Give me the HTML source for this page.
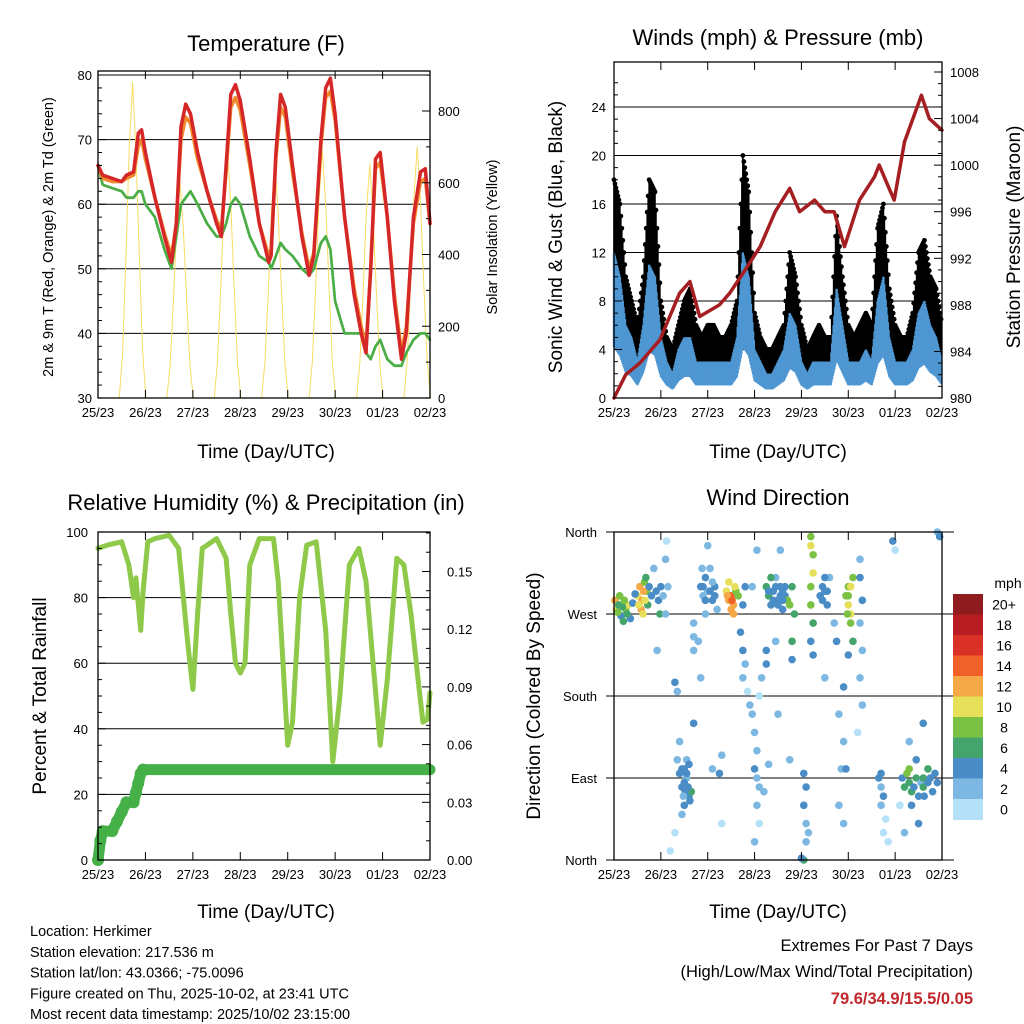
<!DOCTYPE html>
<html><head><meta charset="utf-8"><title>Herkimer Station</title>
<style>
html,body{margin:0;padding:0;background:#fff;}
svg{display:block;font-family:"Liberation Sans",Arial,sans-serif;}
</style></head>
<body>
<svg id="svg" width="1024" height="1024" viewBox="0 0 1024 1024" xmlns="http://www.w3.org/2000/svg">
<rect width="1024" height="1024" fill="#fff"/>
</svg>
<script>
// ===== Data =====
const dayLabels = ["25/23","26/23","27/23","28/23","29/23","30/23","01/23","02/23"];
// Temperature panel
const tempTimes = [0,0.1,0.3,0.5,0.6,0.75,0.85,0.92,1.0,1.2,1.4,1.55,1.65,1.75,1.85,1.95,2.1,2.3,2.5,2.6,2.7,2.8,2.9,3.0,3.2,3.4,3.6,3.65,3.75,3.85,3.95,4.1,4.3,4.45,4.55,4.7,4.8,4.9,5.0,5.2,5.4,5.55,5.65,5.75,5.85,5.95,6.1,6.25,6.4,6.5,6.65,6.8,6.9,7.0];
const tempRed = [66,64.5,64,63.5,64.5,65,71,71.5,68,61,55,51,57,72,75.5,74,68,62,57,55,66,77,78.5,76,67,57,51,52,68,77,75,66,55,49,52,70,78,79.5,74,58,46,40,37,50,67,68,58,45,36,40,58,65,65.5,57];
const tempOrange = [66,64,63.5,63.5,64,64.5,69,70,67,61,55.5,52,57,70,73.5,72.5,67,62,57.5,56,65,75,76.5,74.5,66,57,52,53,67,75,73.5,65,55.5,50,52.5,69,76.5,77.5,73,58,47,41,38,50,65.5,66.5,58,46,37,41,57,63.5,64,57];
const tempGreen = [66,63,62.5,62,61,61,62,62,60,58,53,50,55,60,61,62,60,57,55,55,57,60,61,60,55,52,51,50,52,54,53,52,50,49,50,54,55,53,45,40,40,40,37,36,38,39,36,35,35,37,39,40,40,39];
const solarPeaks = [880,600,690,660,690,650,700];
const solarProfile = [0,0.15,0.45,0.8,1,0.78,0.45,0.15,0];
// Winds panel
const windTimes = [0,0.125,0.25,0.375,0.5,0.625,0.75,0.875,1,1.125,1.25,1.375,1.5,1.625,1.75,1.875,2,2.125,2.25,2.375,2.5,2.625,2.75,2.875,3,3.125,3.25,3.375,3.5,3.625,3.75,3.875,4,4.125,4.25,4.375,4.5,4.625,4.75,4.875,5,5.125,5.25,5.375,5.5,5.625,5.75,5.875,6,6.125,6.25,6.375,6.5,6.625,6.75,6.875,7];
const gust = [18,16,10,8,6,10,18,17,8,5,4,6,8,9,6,5,6,6,5,5,6,8,20,17,7,5,4,4,5,6,12,10,6,4,5,6,5,5,15,10,6,5,6,7,6,14,16,9,6,5,5,7,12,13,10,9,6];
const wind = [12,10,6,5,3,6,11,10,5,3,2,4,5,5,3,3,3,3,3,3,3,5,12,10,4,3,2,2,3,4,7,6,3,2,3,3,3,3,9,6,3,3,3,4,3,8,10,5,3,3,3,4,7,8,6,5,3];
const presTimes = [0,0.25,0.55,0.98,1.4,1.62,1.83,2.25,2.47,2.8,3.12,3.44,3.75,3.96,4.28,4.5,4.7,4.92,5.24,5.56,5.66,5.87,5.98,6.2,6.56,6.73,7.0];
const pressure = [980,982,983,985,989,990,987,988,989,991,993,996,998,996,997,996,996,993,997,999,1000,998,997,1002,1006,1004,1003];
// RH panel
const rhTimes = [0,0.2,0.5,0.65,0.75,0.8,0.9,0.95,1.05,1.2,1.5,1.7,1.8,1.9,2.0,2.1,2.2,2.5,2.7,2.8,2.9,3.0,3.1,3.2,3.4,3.7,3.8,3.9,4.0,4.1,4.25,4.4,4.6,4.8,4.95,5.1,5.3,5.5,5.65,5.8,5.95,6.1,6.3,6.45,6.6,6.75,6.85,6.95,7.0];
const rh = [95,96,97,90,80,86,70,82,97,98,99,95,80,65,52,75,95,98,92,75,60,57,60,90,98,98,85,60,35,42,80,96,97,70,30,50,90,95,85,60,35,55,92,90,75,55,42,43,51];
const rainTimes = [0,0.05,0.1,0.3,0.4,0.5,0.6,0.75,0.8,0.85,0.9,0.95,7.0];
const rain = [0,0.01,0.015,0.015,0.02,0.025,0.03,0.03,0.035,0.04,0.045,0.047,0.047];
// Wind direction panel
const dirTimes = [0.02,0.05,0.1,0.15,0.2,0.25,0.3,0.35,0.12,0.5,0.55,0.6,0.65,0.7,0.58,0.68,0.72,0.62,0.85,0.9,0.95,1.0,0.98,1.05,1.1,1.12,1.15,1.1,0.92,1.35,1.4,1.45,1.5,1.55,1.6,1.65,1.5,1.45,1.55,1.4,1.7,1.3,1.2,1.7,1.7,1.7,1.35,1.3,1.85,1.9,1.95,2.0,2.05,2.1,2.15,2.0,1.95,2.2,1.8,1.85,2.1,2.3,2.25,2.3,2.4,2.45,2.5,2.55,2.6,2.65,2.5,2.45,2.75,2.8,2.7,2.75,2.8,2.75,2.85,2.9,2.95,3.0,3.05,3.0,3.05,3.1,3.05,3.1,3.0,2.95,3.05,3.1,3.15,3.25,3.3,3.35,3.4,3.5,3.55,3.6,3.45,3.65,3.7,3.75,3.8,3.85,3.8,3.8,3.25,3.25,3.45,3.55,3.5,3.75,3.3,3.2,4.05,4.1,4.05,4.1,4.15,4.1,4.05,4.0,4.2,4.2,4.25,4.25,4.2,4.2,4.25,4.2,4.25,4.4,4.45,4.5,4.55,4.6,4.7,4.75,4.5,4.8,4.9,4.85,4.8,4.9,4.95,5.0,5.05,5.0,5.1,5.05,5.1,5.0,4.95,4.9,5.25,5.25,5.3,5.25,5.3,5.25,5.3,5.2,5.65,5.7,5.75,5.7,5.8,5.75,5.85,5.7,5.95,6.0,6.15,6.2,6.25,6.3,6.35,6.3,6.4,6.45,6.5,6.55,6.6,6.35,6.45,6.5,6.3,6.1,6.2,6.6,6.9,6.95,
  0.08,0.18,0.22,0.28,0.4,0.45,0.53,0.63,0.66,0.75,0.8,1.45,1.5,1.52,1.55,1.58,1.6,1.62,1.48,1.9,1.95,2.05,2.1,2.15,1.88,2.42,2.52,2.58,2.55,3.3,3.4,3.45,3.5,3.55,3.6,3.6,3.65,3.35,4.45,4.55,4.5,5.0,5.05,4.98,6.6,6.7,6.75,6.8,6.85,6.7,6.62,6.9];
const dirDegrees = [285,275,280,268,262,275,280,265,290,290,300,285,305,295,275,310,280,270,320,295,285,300,270,290,330,350,300,270,230,110,95,80,100,90,70,75,60,50,110,130,150,30,10,230,245,260,185,195,300,290,310,295,320,285,300,345,270,275,240,200,100,115,95,40,295,285,290,280,295,290,275,305,280,300,250,230,215,200,185,170,160,140,120,100,90,80,60,40,20,300,340,180,200,300,290,280,295,285,300,275,310,290,285,280,300,270,240,220,230,215,240,340,160,110,105,75,95,80,60,40,30,20,0,2,355,345,335,315,300,280,260,240,225,290,300,295,280,310,260,240,200,160,130,100,60,40,290,280,270,300,310,260,240,225,100,190,330,310,285,260,230,200,170,140,90,80,70,60,45,30,20,95,350,340,90,80,95,85,75,100,80,90,70,85,90,60,110,40,130,60,30,150,360,355,
  272,278,285,270,282,292,280,295,285,300,290,100,85,75,95,80,105,65,70,300,285,295,305,290,320,290,285,300,270,295,285,300,280,290,295,285,300,310,285,295,310,290,300,270,80,85,90,75,95,100,70,85];
const dirSpeeds = [12,10,6,4,6,8,10,4,8,10,12,12,8,8,12,6,6,10,2,4,4,4,6,2,2,0,2,2,2,2,4,4,4,2,4,6,4,2,2,2,4,0,0,2,2,2,2,4,4,2,4,2,2,4,4,2,2,2,2,2,2,2,4,0,10,12,14,12,8,8,12,10,4,4,4,4,2,2,0,2,2,2,2,4,2,2,2,0,2,2,2,0,2,6,6,4,4,4,4,4,2,4,8,8,6,6,6,4,4,4,2,2,2,2,2,2,4,4,4,2,2,2,6,4,8,10,8,10,8,8,6,4,4,4,4,4,4,2,2,4,2,2,2,2,2,2,8,10,10,8,8,8,6,4,4,4,2,4,4,2,2,2,2,0,4,2,4,2,0,0,0,4,4,0,4,6,8,6,6,8,4,6,4,2,6,4,4,4,2,0,2,4,2,4,
  8,6,8,6,4,4,10,12,10,4,4,4,4,4,4,4,4,4,2,4,4,4,2,4,2,12,14,10,12,4,4,4,4,4,4,4,4,6,4,4,4,8,10,8,6,4,4,4,4,6,4,4];
const speedLabels = ["20+","18","16","14","12","10","8","6","4","2","0"];
const speedColors = ["#8e1b1d","#b81d24","#da3127","#ef6129","#f5a847","#e6df5a","#7bc144","#43a56c","#4a8dc6","#7db8e2","#b4e1f7"];

// ===== Helpers =====
const NS="http://www.w3.org/2000/svg";
const svg=document.getElementById('svg');
function mk(tag,attrs,parent){const e=document.createElementNS(NS,tag);for(const k in attrs)e.setAttribute(k,attrs[k]);(parent||svg).appendChild(e);return e;}
function grp(name){const g=mk('g',{});return g;}
function txt(g,x,y,s,size,anchor,extra){const t=mk('text',Object.assign({x:x,y:y,'font-size':size,'text-anchor':anchor||'middle',fill:'#000'},extra||{}),g);t.textContent=s;return t;}
function ln(g,x1,y1,x2,y2,c,w){return mk('line',{x1:x1,y1:y1,x2:x2,y2:y2,stroke:c||'#000','stroke-width':w||1},g);}
function poly(g,xs,ys,c,w){let d='';for(let i=0;i<xs.length;i++)d+=(i?'L':'M')+xs[i].toFixed(1)+','+ys[i].toFixed(1);return mk('path',{d:d,fill:'none',stroke:c,'stroke-width':w,'stroke-linejoin':'round','stroke-linecap':'round'},g);}
function scale(d0,d1,r0,r1){return v=>r0+(v-d0)*(r1-r0)/(d1-d0);}
function xAxis(g,x0,x1,yb,yt){const xs=scale(0,7,x0,x1);
  dayLabels.forEach((l,i)=>{const x=xs(i);ln(g,x,yb,x,yb-8);ln(g,x,yt,x,yt+8);
    const t=txt(g,x,yb+19,l,13);});
  return xs;}
function frame(g,x0,y0,x1,y1){mk('rect',{x:x0,y:y0,width:x1-x0,height:y1-y0,fill:'none',stroke:'#000','stroke-width':1.3},g);}

// ===== Panel 1: Temperature =====
(function(){
  const g=grp('temperature-panel');
  const X0=98,X1=430,YT=71,YB=398;
  const xs=scale(0,7,X0,X1), yl=scale(30,80,398,75), yr=scale(0,800,398,111);
  [40,50,60,70,80].forEach(v=>ln(g,X0,yl(v),X1,yl(v),'#000',1));
  const sg=grp('solar-insolation-series');g.appendChild(sg);
  solarPeaks.forEach((p,d)=>{const px=[],py=[];solarProfile.forEach((f,i)=>{px.push(xs(d+0.45+i*0.07));py.push(yr(p*f));});poly(sg,px,py,'#f6dd63',1);});
  const gr=poly(g,tempTimes.map(xs),tempGreen.map(yl),'#4aad45',2.8);gr.setAttribute('stroke-dasharray','2 1.5');
  const or=poly(g,tempTimes.map(xs),tempOrange.map(yl),'#f08a2c',3.5);
  const rd=poly(g,tempTimes.map(xs),tempRed.map(yl),'#d62728',3.5);
  frame(g,X0,YT,X1,YB);
  xAxis(g,X0,X1,YB,YT);
  for(let v=30;v<=80;v+=2){const y=yl(v);const M=v%10===0;ln(g,X0,y,X0+(M?8:4),y);if(M){const t=txt(g,X0-6,y+5,String(v),13,'end');}}
  for(let v=0;v<=900;v+=100){const y=yr(v);const M=v%200===0;ln(g,X1,y,X1-(M?8:4),y);if(M){const t=txt(g,X1+8,y+5,String(v),13,'start');}}
  const t1=txt(g,266,51,'Temperature (F)',22);
  const t2=txt(g,266,458,'Time (Day/UTC)',19);
  const t3=txt(g,0,0,'2m & 9m T (Red, Orange) & 2m Td (Green)',14.5,'middle',{transform:'translate(53,237) rotate(-90)'});
  const t4=txt(g,0,0,'Solar Insolation (Yellow)',14.5,'middle',{transform:'translate(497,237) rotate(-90)'});
})();

// ===== Panel 2: Winds & Pressure =====
(function(){
  const g=grp('winds-pressure-panel');
  const X0=614,X1=942,YT=62,YB=398;
  const xs=scale(0,7,X0,X1), yl=scale(0,24,398,107), yr=scale(980,1008,398,72);
  [4,8,12,16,20,24].forEach(v=>ln(g,X0,yl(v),X1,yl(v),'#000',1));
  const gg=grp('gust-series');g.appendChild(gg);
  for(let i=0;i<windTimes.length-1;i++){
    const n=6;
    for(let k=0;k<n;k++){const f=k/n;const tt=windTimes[i]+f*(windTimes[i+1]-windTimes[i]);
      const gv=gust[i]+f*(gust[i+1]-gust[i]), wv=wind[i]+f*(wind[i+1]-wind[i]);
      ln(gg,xs(tt),yl(wv),xs(tt),yl(gv),'#000',1.6);
      mk('circle',{cx:xs(tt),cy:yl(gv),r:2.4,fill:'#000'},gg);}
  }
  const wg=grp('wind-series');g.appendChild(wg);
  for(let i=0;i<windTimes.length-1;i++){
    const n=8;
    for(let k=0;k<n;k++){const f=k/n;const tt=windTimes[i]+f*(windTimes[i+1]-windTimes[i]);
      const wv=wind[i]+f*(wind[i+1]-wind[i]);
      ln(wg,xs(tt),yl(Math.max(0,wv*0.35)),xs(tt),yl(wv),'#4f97d2',2.4);}
  }
  const p=poly(g,presTimes.map(xs),pressure.map(yr),'#a51e22',3.5);
  frame(g,X0,YT,X1,YB);
  xAxis(g,X0,X1,YB,YT);
  for(let v=0;v<=26;v+=1){const y=yl(v);if(y<YT)break;const M=v%4===0;ln(g,X0,y,X0+(M?8:4),y);if(M){const t=txt(g,X0-8,y+5,String(v),13,'end');}}
  for(let v=980;v<=1008;v+=1){const y=yr(v);const M=v%4===0;ln(g,X1,y,X1-(M?8:4),y);if(M){const t=txt(g,X1+8,y+5,String(v),13,'start');}}
  const t1=txt(g,778,45,'Winds (mph) & Pressure (mb)',22);
  const t2=txt(g,778,458,'Time (Day/UTC)',19);
  const t3=txt(g,0,0,'Sonic Wind & Gust (Blue, Black)',19,'middle',{transform:'translate(562,237) rotate(-90)'});
  const t4=txt(g,0,0,'Station Pressure (Maroon)',19,'middle',{transform:'translate(1020,237) rotate(-90)'});
})();

// ===== Panel 3: RH & Precip =====
(function(){
  const g=grp('humidity-precip-panel');
  const X0=98,X1=430,YT=532,YB=860;
  const xs=scale(0,7,X0,X1), yl=scale(0,100,860,532), yr=scale(0,0.17,860,533);
  [20,40,60,80,100].forEach(v=>ln(g,X0,yl(v),X1,yl(v),'#000',1));
  const r=poly(g,rhTimes.map(xs),rh.map(yl),'#8ec94a',5);
  const pg=grp('precip-series');g.appendChild(pg);
  poly(pg,rainTimes.map(xs),rain.map(yr),'#44b047',11);
  rainTimes.slice(0,-1).forEach((t,i)=>mk('circle',{cx:xs(t),cy:yr(rain[i]),r:6,fill:'#44b047'},pg));
  frame(g,X0,YT,X1,YB);
  xAxis(g,X0,X1,YB,YT);
  for(let v=0;v<=100;v+=5){const y=yl(v);const M=v%20===0;ln(g,X0,y,X0+(M?8:4),y);if(M){const t=txt(g,X0-10,y+5,String(v),13,'end');}}
  for(let k=0;k<=17;k++){const v=k*0.01;const y=yr(v);const M=k%3===0;ln(g,X1,y,X1-(M?8:4),y);if(M){const t=txt(g,X1+17,y+5,v.toFixed(2),13,'start');}}
  const t1=txt(g,266,510,'Relative Humidity (%) & Precipitation (in)',22);
  const t2=txt(g,266,918,'Time (Day/UTC)',19);
  const t3=txt(g,0,0,'Percent & Total Rainfall',19,'middle',{transform:'translate(46,696) rotate(-90)'});
})();

// ===== Panel 4: Wind Direction =====
(function(){
  const g=grp('wind-direction-panel');
  const X0=614,X1=942,YT=532,YB=860;
  const xs=scale(0,7,X0,X1), yd=scale(0,360,860,532);
  [90,180,270].forEach(v=>ln(g,X0-8,yd(v),X1+12,yd(v),'#000',1));
  ln(g,X0-8,YT,X1+12,YT);ln(g,X0-8,YB,X1+12,YB);
  const cidx=s=>Math.max(0,Math.min(10,10-Math.floor(s/2)));
  const dg=grp('direction-points');g.appendChild(dg);
  dirTimes.forEach((t,i)=>{
    const c=mk('circle',{cx:xs(t),cy:yd(dirDegrees[i]),r:3.8,fill:speedColors[cidx(dirSpeeds[i])]},dg);
    
    
  });
  frame(g,X0,YT,X1,YB);
  xAxis(g,X0,X1,YB,YT);
  const dn=['North','East','South','West','North'];
  [0,90,180,270,360].forEach((v,i)=>{const t=txt(g,X0-17,yd(v)+5,dn[i],13,'end');});
  const cb=grp('speed-colorbar');g.appendChild(cb);
  const cw=20.5;
  speedLabels.forEach((l,i)=>{const r=mk('rect',{x:953,y:594+i*cw,width:30,height:cw+0.5,fill:speedColors[i]},cb);
    
    const t=txt(cb,1004,594+i*cw+cw/2+5,l,14);});
  txt(cb,1008,588,'mph',14);
  const t1=txt(g,778,505,'Wind Direction',22);
  const t2=txt(g,778,918,'Time (Day/UTC)',19);
  const t3=txt(g,0,0,'Direction (Colored By Speed)',19,'middle',{transform:'translate(540,696) rotate(-90)'});
})();

// ===== Footer text =====
(function(){
  const g=grp('station-info');
  const lines=['Location: Herkimer','Station elevation: 217.536 m','Station lat/lon: 43.0366; -75.0096','Figure created on Thu, 2025-10-02, at 23:41 UTC','Most recent data timestamp: 2025/10/02 23:15:00'];
  lines.forEach((s,i)=>{const t=txt(g,30,936+i*20.8,s,14.5,'start');});
  const h=grp('extremes-info');
  let t=txt(h,973,951,'Extremes For Past 7 Days',16.5,'end');
  t=txt(h,973,977,'(High/Low/Max Wind/Total Precipitation)',16.5,'end');
  t=txt(h,973,1004,'79.6/34.9/15.5/0.05',16.5,'end',{fill:'#c0282d','font-weight':'bold'});
})();
</script>
</body></html>
